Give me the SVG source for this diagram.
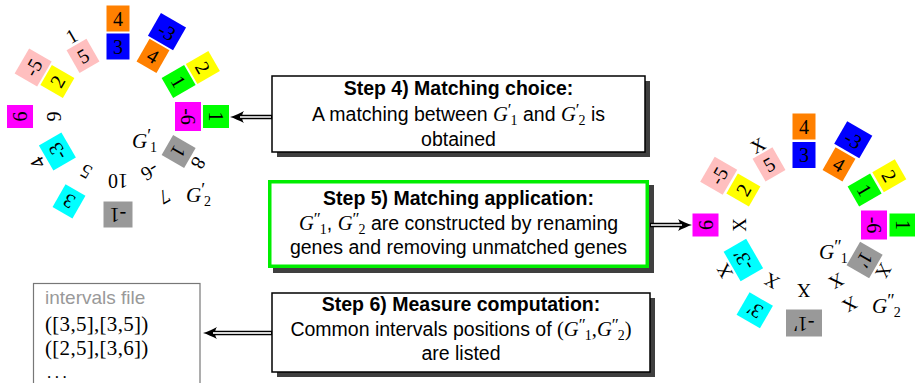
<svg xmlns="http://www.w3.org/2000/svg" width="915" height="383" viewBox="0 0 915 383">
<defs>
<style>
.n{font-family:"Liberation Serif",serif;font-size:20px;text-anchor:middle;fill:#000}
.x{font-family:"Liberation Serif",serif;font-size:19px;text-anchor:middle;fill:#000}
.or{fill:#ff8000}.bl{fill:#0000ff}.pk{fill:#ffbfbf}.ye{fill:#ffff00}.gr{fill:#00ff00}.mg{fill:#ff00ff}.cy{fill:#00ffff}.gy{fill:#999999}
.lbl{font-family:"Liberation Serif",serif;font-style:italic;font-size:21px}
.pr{font-style:normal;font-size:18px}
.sm{font-style:normal;font-size:14px}
.t{font-family:"Liberation Sans",sans-serif;font-size:19.5px;text-anchor:middle;fill:#000}
.tb{font-weight:bold}
.m{font-family:"Liberation Serif",serif;font-style:italic;font-size:20.5px}
.mp{font-family:"Liberation Serif",serif;font-style:normal;font-size:17px}
.m2{font-family:"Liberation Serif",serif;font-style:normal;font-size:14px}
.mr{font-family:"Liberation Serif",serif;font-size:20.5px}
.box{fill:#fff;stroke:#000;stroke-width:1.5}
.gbox{fill:#fff;stroke:#00ee00;stroke-width:3.5}
.shadow{fill:#3f3f3f}
.s1{fill:none;stroke:#000;stroke-width:4.5}
.s2{fill:none;stroke:#d8d8d8;stroke-width:1.8}
.iv{font-family:"Liberation Serif",serif;font-size:21px;letter-spacing:0.3px}
</style>
<marker id="ah" markerUnits="userSpaceOnUse" markerWidth="15" markerHeight="13" refX="6" refY="6.5" orient="auto" overflow="visible">
<path d="M14,6.5 C10,5.5 4,2.5 0,0.5 C2.5,3.5 2.5,9.5 0,12.5 C4,10.5 10,7.5 14,6.5 Z" fill="#000"/>
</marker>
</defs>
<rect width="915" height="383" fill="#fff"/>

<!-- Left figure: G'1 (inner) and G'2 (outer) -->
<g id="left-genomes">
<g id="L-in0" transform="translate(118,116.5) rotate(0) translate(0,-70)"><rect class="bl" x="-11.5" y="-13" width="23" height="26"/><text class="n" y="7">3</text></g>
<g id="L-in30" transform="translate(118,116.5) rotate(30) translate(0,-70)"><rect class="or" x="-11.5" y="-13" width="23" height="26"/><text class="n" y="7">4</text></g>
<g id="L-in60" transform="translate(118,116.5) rotate(60) translate(0,-70)"><rect class="gr" x="-11.5" y="-13" width="23" height="26"/><text class="n" y="7">1</text></g>
<g id="L-in90" transform="translate(118,116.5) rotate(90) translate(0,-70)"><rect class="mg" x="-14.5" y="-13" width="29" height="26"/><text class="n" y="7">-6</text></g>
<g id="L-in120" transform="translate(118,116.5) rotate(120) translate(0,-70)"><rect class="gy" x="-11.5" y="-13" width="23" height="26"/><text class="n" y="7">1</text></g>
<g id="L-in150" transform="translate(118,116.5) rotate(150) translate(0,-64)"><text class="n" y="7">-6</text></g>
<g id="L-in180" transform="translate(118,116.5) rotate(180) translate(0,-64)"><text class="n" y="7">10</text></g>
<g id="L-in210" transform="translate(118,116.5) rotate(210) translate(0,-64)"><text class="n" y="7">5</text></g>
<g id="L-in240" transform="translate(118,116.5) rotate(240) translate(0,-70)"><rect class="cy" x="-14.5" y="-13" width="29" height="26"/><text class="n" y="7">-3</text></g>
<g id="L-in270" transform="translate(118,116.5) rotate(270) translate(0,-64)"><text class="n" y="7">9</text></g>
<g id="L-in300" transform="translate(118,116.5) rotate(300) translate(0,-70)"><rect class="ye" x="-11.5" y="-13" width="23" height="26"/><text class="n" y="7">2</text></g>
<g id="L-in330" transform="translate(118,116.5) rotate(330) translate(0,-70)"><rect class="pk" x="-11.5" y="-13" width="23" height="26"/><text class="n" y="7">5</text></g>

<g id="L-out0" transform="translate(118,116.5) rotate(0) translate(0,-98)"><rect class="or" x="-11.5" y="-13" width="23" height="26"/><text class="n" y="7">4</text></g>
<g id="L-out30" transform="translate(118,116.5) rotate(30) translate(0,-98)"><rect class="bl" x="-14.5" y="-13" width="29" height="26"/><text class="n" y="7">-3</text></g>
<g id="L-out60" transform="translate(118,116.5) rotate(60) translate(0,-98)"><rect class="ye" x="-11.5" y="-13" width="23" height="26"/><text class="n" y="7">2</text></g>
<g id="L-out90" transform="translate(118,116.5) rotate(90) translate(0,-98)"><rect class="gr" x="-11.5" y="-13" width="23" height="26"/><text class="n" y="7">1</text></g>
<g id="L-out120" transform="translate(118,116.5) rotate(120) translate(0,-93)"><text class="n" y="7">8</text></g>
<g id="L-out150" transform="translate(118,116.5) rotate(150) translate(0,-93)"><text class="n" y="7">7</text></g>
<g id="L-out180" transform="translate(118,116.5) rotate(180) translate(0,-98)"><rect class="gy" x="-14.5" y="-13" width="29" height="26"/><text class="n" y="7">-1</text></g>
<g id="L-out210" transform="translate(118,116.5) rotate(210) translate(0,-98)"><rect class="cy" x="-11.5" y="-13" width="23" height="26"/><text class="n" y="7">3</text></g>
<g id="L-out240" transform="translate(118,116.5) rotate(240) translate(0,-93)"><text class="n" y="7">4</text></g>
<g id="L-out270" transform="translate(118,116.5) rotate(270) translate(0,-98)"><rect class="mg" x="-11.5" y="-13" width="23" height="26"/><text class="n" y="7">6</text></g>
<g id="L-out300" transform="translate(118,116.5) rotate(300) translate(0,-98)"><rect class="pk" x="-14.5" y="-13" width="29" height="26"/><text class="n" y="7">-5</text></g>
<g id="L-out330" transform="translate(118,116.5) rotate(330) translate(0,-93)"><text class="n" y="7">1</text></g>

<g id="L-G1"><text class="lbl" x="132" y="148">G<tspan class="pr" dy="-6">′</tspan><tspan class="sm" dx="-1" dy="10">1</tspan></text></g>
<g id="L-G2"><text class="lbl" x="186" y="202">G<tspan class="pr" dy="-6">′</tspan><tspan class="sm" dx="-1" dy="10">2</tspan></text></g>
</g>

<!-- Right figure: G''1 (inner) and G''2 (outer) -->
<g id="right-genomes">
<g id="R-in0" transform="translate(804,225) rotate(0) translate(0,-70)"><rect class="bl" x="-11.5" y="-13" width="23" height="26"/><text class="n" y="7">3</text></g>
<g id="R-in30" transform="translate(804,225) rotate(30) translate(0,-70)"><rect class="or" x="-11.5" y="-13" width="23" height="26"/><text class="n" y="7">4</text></g>
<g id="R-in60" transform="translate(804,225) rotate(60) translate(0,-70)"><rect class="gr" x="-11.5" y="-13" width="23" height="26"/><text class="n" y="7">1</text></g>
<g id="R-in90" transform="translate(804,225) rotate(90) translate(0,-70)"><rect class="mg" x="-14.5" y="-13" width="29" height="26"/><text class="n" y="7">-6</text></g>
<g id="R-in120" transform="translate(804,225) rotate(120) translate(0,-70)"><rect class="gy" x="-13.5" y="-13" width="27" height="26"/><text class="n" y="7">1′</text></g>
<g id="R-in150" transform="translate(804,225) rotate(150) translate(0,-65)"><text class="x" y="6.5">X</text></g>
<g id="R-in180" transform="translate(804,225) rotate(180) translate(0,-65)"><text class="x" y="6.5">X</text></g>
<g id="R-in210" transform="translate(804,225) rotate(210) translate(0,-65)"><text class="x" y="6.5">X</text></g>
<g id="R-in240" transform="translate(804,225) rotate(240) translate(0,-70)"><rect class="cy" x="-17" y="-13" width="34" height="26"/><text class="n" y="7">-3′</text></g>
<g id="R-in270" transform="translate(804,225) rotate(270) translate(0,-65)"><text class="x" y="6.5">X</text></g>
<g id="R-in300" transform="translate(804,225) rotate(300) translate(0,-70)"><rect class="ye" x="-11.5" y="-13" width="23" height="26"/><text class="n" y="7">2</text></g>
<g id="R-in330" transform="translate(804,225) rotate(330) translate(0,-70)"><rect class="pk" x="-11.5" y="-13" width="23" height="26"/><text class="n" y="7">5</text></g>

<g id="R-out0" transform="translate(804,225) rotate(0) translate(0,-98.5)"><rect class="or" x="-11.5" y="-13" width="23" height="26"/><text class="n" y="7">4</text></g>
<g id="R-out30" transform="translate(804,225) rotate(30) translate(0,-98.5)"><rect class="bl" x="-14.5" y="-13" width="29" height="26"/><text class="n" y="7">-3</text></g>
<g id="R-out60" transform="translate(804,225) rotate(60) translate(0,-98.5)"><rect class="ye" x="-11.5" y="-13" width="23" height="26"/><text class="n" y="7">2</text></g>
<g id="R-out90" transform="translate(804,225) rotate(90) translate(0,-98.5)"><rect class="gr" x="-11.5" y="-13" width="23" height="26"/><text class="n" y="7">1</text></g>
<g id="R-out120" transform="translate(804,225) rotate(120) translate(0,-92)"><text class="x" y="6.5">X</text></g>
<g id="R-out150" transform="translate(804,225) rotate(150) translate(0,-92)"><text class="x" y="6.5">X</text></g>
<g id="R-out180" transform="translate(804,225) rotate(180) translate(0,-98.5)"><rect class="gy" x="-18" y="-13" width="36" height="27"/><text class="n" y="7">-1′</text></g>
<g id="R-out210" transform="translate(804,225) rotate(210) translate(0,-98.5)"><rect class="cy" x="-13.5" y="-13" width="27" height="26"/><text class="n" y="7">3′</text></g>
<g id="R-out240" transform="translate(804,225) rotate(240) translate(0,-92)"><text class="x" y="6.5">X</text></g>
<g id="R-out270" transform="translate(804,225) rotate(270) translate(0,-98.5)"><rect class="mg" x="-11.5" y="-13" width="23" height="26"/><text class="n" y="7">6</text></g>
<g id="R-out300" transform="translate(804,225) rotate(300) translate(0,-98.5)"><rect class="pk" x="-14.5" y="-13" width="29" height="26"/><text class="n" y="7">-5</text></g>
<g id="R-out330" transform="translate(804,225) rotate(330) translate(0,-92)"><text class="x" y="6.5">X</text></g>

<g id="R-G1"><text class="lbl" x="819" y="259">G<tspan class="pr" dy="-6">″</tspan><tspan class="sm" dx="-1" dy="10">1</tspan></text></g>
<g id="R-G2"><text class="lbl" x="872" y="313">G<tspan class="pr" dy="-6">″</tspan><tspan class="sm" dx="-1" dy="10">2</tspan></text></g>
</g>

<!-- Step 4 -->
<g id="step4">
<rect class="shadow" x="277" y="81" width="373" height="76"/>
<rect class="box" x="272" y="76" width="373" height="76"/>
<text class="t tb" x="458.5" y="95">Step 4) Matching choice:</text>
<text class="t" x="458.5" y="121">A matching between <tspan class="m">G</tspan><tspan class="mp" dy="-6">′</tspan><tspan class="m2" dx="-1" dy="10">1</tspan><tspan dy="-4"> and </tspan><tspan class="m">G</tspan><tspan class="mp" dy="-6">′</tspan><tspan class="m2" dx="-1" dy="10">2</tspan><tspan dy="-4"> is</tspan></text>
<text class="t" x="458.5" y="146">obtained</text>
</g>

<!-- Step 5 -->
<g id="step5">
<rect class="shadow" x="273" y="185" width="381" height="88"/>
<rect class="gbox" x="269.75" y="181.75" width="377.5" height="84.5"/>
<text class="t tb" x="458.5" y="205">Step 5) Matching application:</text>
<text class="t" x="458.5" y="230"><tspan class="m">G</tspan><tspan class="mp" dy="-6">″</tspan><tspan class="m2" dx="-1" dy="10">1</tspan><tspan dy="-4">, </tspan><tspan class="m">G</tspan><tspan class="mp" dy="-6">″</tspan><tspan class="m2" dx="-1" dy="10">2</tspan><tspan dy="-4"> are constructed by renaming</tspan></text>
<text class="t" x="458.5" y="254">genes and removing unmatched genes</text>
</g>

<!-- Step 6 -->
<g id="step6">
<rect class="shadow" x="277" y="298" width="378" height="79"/>
<rect class="box" x="272" y="293" width="378" height="79"/>
<text class="t tb" x="461" y="311">Step 6) Measure computation:</text>
<text class="t" x="461" y="336">Common intervals positions of <tspan class="mr">(</tspan><tspan class="m">G</tspan><tspan class="mp" dy="-6">″</tspan><tspan class="m2" dx="-1" dy="10">1</tspan><tspan class="mr" dy="-4">,</tspan><tspan class="m">G</tspan><tspan class="mp" dy="-6">″</tspan><tspan class="m2" dx="-1" dy="10">2</tspan><tspan class="mr" dy="-4">)</tspan></text>
<text class="t" x="461" y="360">are listed</text>
</g>

<!-- Intervals file -->
<g id="intervals">
<rect x="33.5" y="283.5" width="166.5" height="120" fill="#fff" stroke="#777" stroke-width="1.2"/>
<text x="45" y="304" font-family="Liberation Sans, sans-serif" font-size="19" fill="#999">intervals file</text>
<text class="iv" x="45" y="331">([3,5],[3,5])</text>
<text class="iv" x="45" y="355">([2,5],[3,6])</text>
<text x="47" y="378" font-family="Liberation Serif, serif" font-size="17" letter-spacing="3.5">...</text>
</g>

<!-- Connectors -->
<g id="connectors">
<path class="s1" d="M272,117 H238" marker-end="url(#ah)"/>
<path class="s2" d="M271,117 H240"/>
<path class="s1" d="M650,225 H684" marker-end="url(#ah)"/>
<path class="s2" d="M651,225 H682"/>
<path class="s1" d="M272,333 H211" marker-end="url(#ah)"/>
<path class="s2" d="M271,333 H213"/>
</g>
</svg>
